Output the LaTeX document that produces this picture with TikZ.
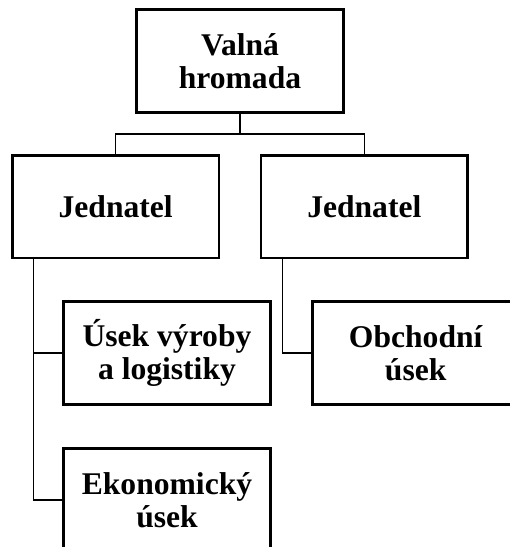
\documentclass[tikz,border=0pt]{standalone}
\usepackage{fontspec}
\setmainfont{Liberation Serif}
\begin{document}
\begin{tikzpicture}[x=1pt,y=-1pt,
  orgbox/.style={draw,line width=2.6pt,minimum width=206.7pt,minimum height=102.5pt,
    align=center,inner sep=0pt,font=\bfseries\fontsize{31.6}{33}\selectfont},
  conn/.style={line width=1.2pt}]
\useasboundingbox (0,0) rectangle (510,547);
\clip (0,0) rectangle (510,547);
\node[orgbox] (VH) at (240,61) {Valná\\hromada};
\node[orgbox] (J1) at (115.7,206.7) {Jednatel};
\node[orgbox] (J2) at (364.3,206.7) {Jednatel};
\node[orgbox] (U) at (167,353) {Úsek výroby\\a logistiky};
\node[orgbox] (O) at (415.7,353) {Obchodní\\úsek};
\node[orgbox] (E) at (167,500) {Ekonomický\\úsek};
\coordinate (hub) at (240,134);
\coordinate (s1) at (33.3,258.3);
\coordinate (s2) at (282.3,258.3);
\draw[conn] (VH.south) -- (hub) -| (J1.north);
\draw[conn] (hub) -| (J2.north);
\draw[conn] (s1) |- (U.west);
\draw[conn] (s1) |- (E.west);
\draw[conn] (s2) |- (O.west);
\end{tikzpicture}
\end{document}
